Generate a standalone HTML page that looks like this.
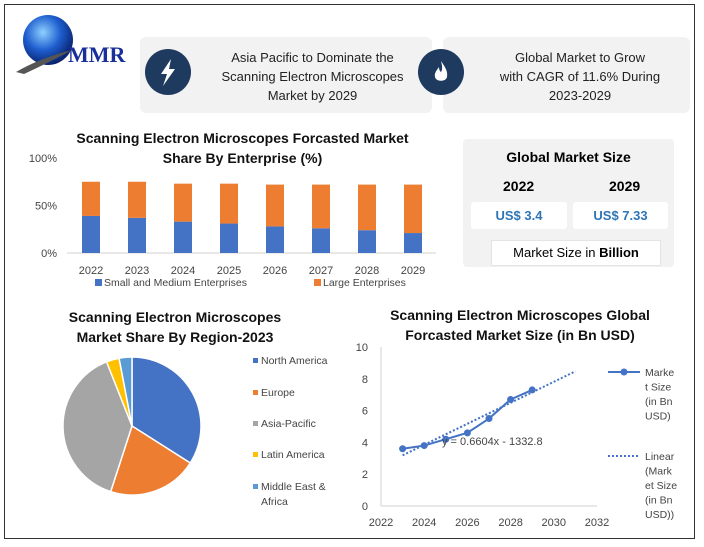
<!DOCTYPE html>
<html><head><meta charset="utf-8">
<style>
body{margin:0;width:704px;height:547px;background:#fff;font-family:"Liberation Sans",sans-serif;position:relative;overflow:hidden}
.abs{position:absolute}
.frame{left:4px;top:4px;width:691px;height:535px;border:1.5px solid #333;box-sizing:border-box}
.hbox{background:#f2f2f2;border-radius:6px}
.hcirc{width:46px;height:46px;border-radius:50%;background:#1f3a5f}
.htext{font-size:13px;color:#222;text-align:center;line-height:19px}
.ttl{font-weight:bold;font-size:14px;color:#111;text-align:center;line-height:20px}
</style></head><body>
<div class="abs frame"></div>

<svg class="abs" style="left:10px;top:10px" width="130" height="70">
<defs><radialGradient id="g" cx="40%" cy="35%" r="70%"><stop offset="0" stop-color="#8fd0ff"/><stop offset="0.5" stop-color="#1f5fd0"/><stop offset="1" stop-color="#061a60"/></radialGradient></defs>
<circle cx="38" cy="30" r="25" fill="url(#g)"/>
<path d="M6,62 Q30,48 62,40 Q40,52 14,64 Z" fill="#555"/>
<text x="58" y="52" font-family="Liberation Serif,serif" font-weight="bold" font-size="22" fill="#1a2f9a">MMR</text>
</svg>

<div class="abs hbox" style="left:140px;top:37px;width:292px;height:76px"></div>
<div class="abs hcirc" style="left:145px;top:49px"><svg width="46" height="46"><path d="M26,10 L16,25 L22,25 L18,37 L30,20 L24,20 Z" fill="#fff"/></svg></div>
<div class="abs htext" style="left:200px;top:48px;width:225px">Asia Pacific to Dominate the<br>Scanning Electron Microscopes<br>Market by 2029</div>

<div class="abs hbox" style="left:443px;top:37px;width:247px;height:76px"></div>
<div class="abs hcirc" style="left:418px;top:49px"><svg width="46" height="46"><path d="M23,12 C27,18 30,22 29,28 C28,33 18,33 17,28 C16,24 19,21 21,18 C21,22 23,23 23,23 C25,20 24,16 23,12 Z" fill="#fff"/></svg></div>
<div class="abs htext" style="left:470px;top:48px;width:220px">Global Market to Grow<br>with CAGR of 11.6% During<br>2023-2029</div>

<div class="abs ttl" style="left:60px;top:128px;width:365px">Scanning Electron Microscopes Forcasted Market<br>Share By Enterprise (%)</div>
<svg class="abs" id="bar" style="left:0;top:140px" width="450" height="155"></svg>

<div class="abs hbox" style="left:463px;top:139px;width:211px;height:128px;border-radius:4px"></div>
<div class="abs" style="left:463px;top:149px;width:211px;text-align:center;font-weight:bold;font-size:14px">Global Market Size</div>
<div class="abs" style="left:503px;top:178px;font-weight:bold;font-size:14px">2022</div>
<div class="abs" style="left:609px;top:178px;font-weight:bold;font-size:14px">2029</div>
<div class="abs" style="left:471px;top:202px;width:96px;height:27px;background:#fff;border-radius:3px;color:#2e75b6;font-weight:bold;font-size:13px;line-height:27px;text-align:center">US$ 3.4</div>
<div class="abs" style="left:573px;top:202px;width:95px;height:27px;background:#fff;border-radius:3px;color:#2e75b6;font-weight:bold;font-size:13px;line-height:27px;text-align:center">US$ 7.33</div>
<div class="abs" style="left:491px;top:240px;width:168px;height:24px;background:#fff;border:1px solid #e4e4e4;font-size:13px;line-height:24px;text-align:center">Market Size in <b>Billion</b></div>

<div class="abs ttl" style="left:45px;top:307px;width:260px">Scanning Electron Microscopes<br>Market Share By Region-2023</div>
<svg class="abs" id="pie" style="left:0;top:340px" width="350" height="190"></svg>

<div class="abs ttl" style="left:380px;top:305px;width:280px">Scanning Electron Microscopes Global<br>Forcasted Market Size (in Bn USD)</div>
<svg class="abs" id="line" style="left:340px;top:335px" width="355" height="200"></svg>

<script>
const barYears=['2022','2023','2024','2025','2026','2027','2028','2029'];
const smeShare=[39,37,33,31,28,26,24,21];
const largeShare=[36,38,40,42,44,46,48,51];
const barTicks=[0,50,100];

const pieLabels=['North America','Europe','Asia-Pacific','Latin America','Middle East & Africa'];
const pieValues=[34,21,39,3,3];
const pieColors=['#4472c4','#ed7d31','#a5a5a5','#ffc000','#5b9bd5'];

const lineYears=[2023,2024,2025,2026,2027,2028,2029];
const lineValues=[3.6,3.8,4.2,4.6,5.5,6.7,7.3];
const xTicks=[2022,2024,2026,2028,2030,2032];
const yTicks=[0,2,4,6,8,10];
const trendSlope=0.6604, trendIntercept=-1332.8;
const trendRange=[2023,2031];

const NS='http://www.w3.org/2000/svg';
function mk(p,t,a,txt){const e=document.createElementNS(NS,t);for(const k in a)e.setAttribute(k,a[k]);if(txt!==undefined)e.textContent=txt;p.appendChild(e);return e;}

// bar chart
(function(){
const s=document.getElementById('bar');
const y=v=>113-v*0.95, x=i=>91+i*46;
barTicks.forEach(t=>{const l=mk(s,'text',{x:57,y:y(t)+4,'text-anchor':'end','font-size':11,fill:'#444'},t+'%');

});
mk(s,'line',{x1:67,x2:436,y1:113,y2:113,stroke:'#d0d0d0'});
barYears.forEach((yr,i)=>{
const a=mk(s,'rect',{x:x(i)-9,y:y(smeShare[i]),width:18,height:smeShare[i]*0.95,fill:'#4472c4'});


const b=mk(s,'rect',{x:x(i)-9,y:y(smeShare[i]+largeShare[i]),width:18,height:largeShare[i]*0.95,fill:'#ed7d31'});


const t=mk(s,'text',{x:x(i),y:134,'text-anchor':'middle','font-size':11,fill:'#444'},yr);


});
mk(s,'rect',{x:95,y:139,width:7,height:7,fill:'#4472c4'});
mk(s,'text',{x:104,y:146,'font-size':10.5,fill:'#444'},'Small and Medium Enterprises');
mk(s,'rect',{x:314,y:139,width:7,height:7,fill:'#ed7d31'});
mk(s,'text',{x:323,y:146,'font-size':10.5,fill:'#444'},'Large Enterprises');
})();

// pie
(function(){
const s=document.getElementById('pie');
const cx=132,cy=86,r=69;const tot=pieValues.reduce((a,b)=>a+b,0);let a0=0;
pieValues.forEach((v,i)=>{const a1=a0+v/tot*2*Math.PI;
const p=(a)=>[cx+r*Math.sin(a),cy-r*Math.cos(a)];const [x0,y0]=p(a0),[x1,y1]=p(a1);
const sl=mk(s,'path',{d:`M${cx},${cy}L${x0},${y0}A${r},${r} 0 ${a1-a0>Math.PI?1:0} 1 ${x1},${y1}Z`,fill:pieColors[i],stroke:'#fff','stroke-width':1.5});


a0=a1;});
const ly=[24,56,87,118,150];
pieLabels.forEach((l,i)=>{mk(s,'rect',{x:253,y:ly[i]-6,width:5,height:5,fill:pieColors[i]});
if(i===4){mk(s,'text',{x:261,y:ly[i],'font-size':10.5,fill:'#444'},'Middle East &');mk(s,'text',{x:261,y:ly[i]+15,'font-size':10.5,fill:'#444'},'Africa');}
else{const t=mk(s,'text',{x:261,y:ly[i],'font-size':10.5,fill:'#444'},l);

}});
})();

// line chart
(function(){
const s=document.getElementById('line');
const x=v=>41+(v-2022)*21.6, y=v=>171-v*15.9;
yTicks.forEach(t=>mk(s,'text',{x:28,y:y(t)+4,'text-anchor':'end','font-size':11,fill:'#444'},t));
xTicks.forEach(t=>mk(s,'text',{x:x(t),y:191,'text-anchor':'middle','font-size':11,fill:'#444'},t));
mk(s,'line',{x1:41,x2:257,y1:171,y2:171,stroke:'#d0d0d0'});
mk(s,'line',{x1:41,x2:41,y1:12,y2:171,stroke:'#d0d0d0'});
const tr=mk(s,'line',{x1:x(trendRange[0]),y1:y(trendSlope*trendRange[0]+trendIntercept),x2:x(trendRange[1]),y2:y(trendSlope*trendRange[1]+trendIntercept),stroke:'#4472c4','stroke-width':2,'stroke-dasharray':'2,2'});


const pl=mk(s,'polyline',{points:lineYears.map((yr,i)=>x(yr)+','+y(lineValues[i])).join(' '),fill:'none',stroke:'#4472c4','stroke-width':2});


lineYears.forEach((yr,i)=>{const c=mk(s,'circle',{cx:x(yr),cy:y(lineValues[i]),r:3.5,fill:'#4472c4'});

});
mk(s,'text',{x:102,y:110,'font-size':11,fill:'#444'},'y = 0.6604x - 1332.8');
mk(s,'line',{x1:268,x2:300,y1:37,y2:37,stroke:'#4472c4','stroke-width':2});
mk(s,'circle',{cx:284,cy:37,r:3.5,fill:'#4472c4'});
['Marke','t Size','(in Bn','USD)'].forEach((t,i)=>mk(s,'text',{x:305,y:41+i*14.5,'font-size':10.5,fill:'#444'},t));
mk(s,'line',{x1:268,x2:300,y1:121,y2:121,stroke:'#4472c4','stroke-width':2,'stroke-dasharray':'2,2'});
['Linear','(Mark','et Size','(in Bn','USD))'].forEach((t,i)=>mk(s,'text',{x:305,y:125+i*14.5,'font-size':10.5,fill:'#444'},t));
})();
</script>
</body></html>
